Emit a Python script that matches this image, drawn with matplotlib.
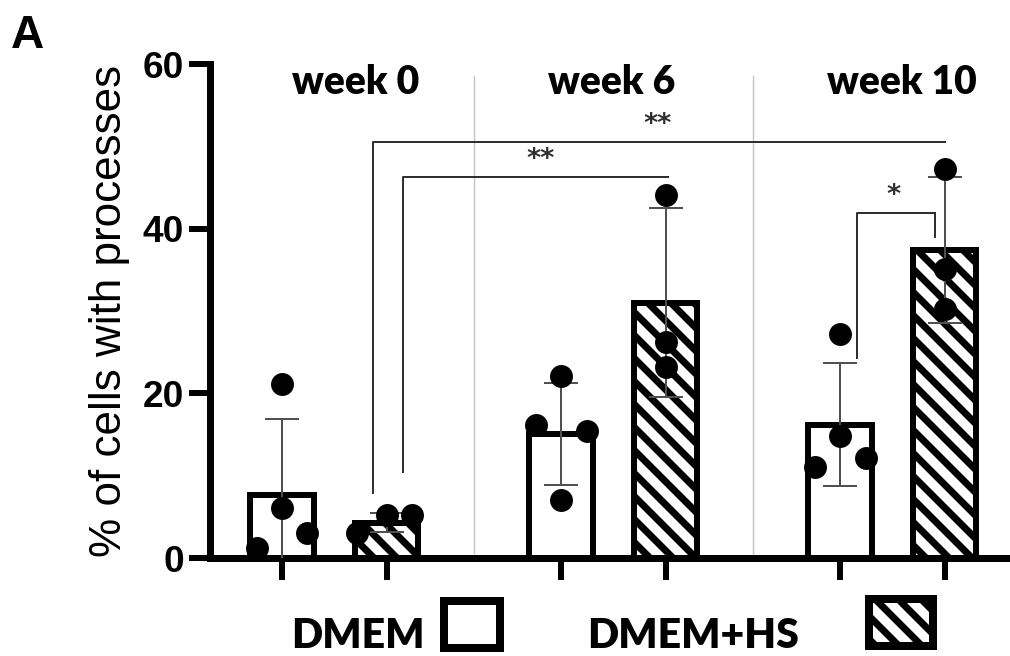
import matplotlib
matplotlib.use("Agg")
import matplotlib.pyplot as plt
from matplotlib.patches import Rectangle
import numpy as np

DPI = 138
PX = 72.0 / DPI  # one pixel in points

# group means / SD (% of cells with processes)
weeks = ["week 0", "week 6", "week 10"]
dmem_mean = [7.7, 15.1, 16.2]
dmem_sd = [9.2, 6.2, 7.5]
hs_mean = [4.3, 31.0, 37.4]
hs_sd = [1.2, 11.5, 8.9]

# individual wells
dmem_points = [[21.1, 6.1, 3.0, 1.2], [22.1, 16.2, 15.4, 7.1], [27.2, 14.8, 11.1, 12.2]]
dmem_jitter = [[0, 0, 0.24, -0.24], [0, -0.24, 0.25, 0], [0, 0, -0.24, 0.25]]
hs_points = [[5.2, 5.2, 3.0], [44.1, 26.2, 23.2], [47.3, 35.1, 30.2]]
hs_jitter = [[0, 0.24, -0.28], [0, 0, 0], [0, 0, 0]]

group_pos = np.array([0.0, 2.67, 5.34])

# significance brackets: (x left, x right, top, left leg end, right leg end, label, label x)
brackets = [
    (0.87, 6.34, 50.5, 7.9, None, "**", 3.59),
    (1.16, 3.69, 46.3, 10.4, None, "**", 2.47),
    (5.50, 6.25, 41.9, 24.3, 39.0, "*", 5.85),
]

plt.rcParams["hatch.linewidth"] = 7 * PX
plt.rcParams["hatch.color"] = "black"

fig = plt.figure(figsize=(1010 / DPI, 656 / DPI), dpi=DPI)
fig.patch.set_facecolor("white")
x_left = (210 - 282) / 104.5
x_right = (1010 - 282) / 104.5
ax = fig.add_axes([210 / 1010, (656 - 558) / 656, 1 - 210 / 1010, (558 - 64) / 656])
ax.set_xlim(x_left, x_right)
ax.set_ylim(0, 60)

bar_w = 0.61
edge_lw = 6 * PX
x_dmem = group_pos
x_hs = group_pos + 1

ax.bar(x_dmem, dmem_mean, width=bar_w, facecolor="white", edgecolor="black",
       linewidth=edge_lw, zorder=2)
ax.bar(x_hs, hs_mean, width=bar_w, facecolor="white", edgecolor="black",
       linewidth=edge_lw, hatch="\\\\", zorder=2)

err_kw = dict(fmt="none", ecolor="#505050", elinewidth=2 * PX, capsize=17 * PX,
              capthick=2 * PX, zorder=3)
ax.errorbar(x_dmem, dmem_mean, yerr=dmem_sd, **err_kw)
ax.errorbar(x_hs, hs_mean, yerr=hs_sd, **err_kw)

for i in range(len(weeks)):
    ax.scatter(x_dmem[i] + np.array(dmem_jitter[i]), dmem_points[i], s=(21 * PX) ** 2,
               color="black", zorder=4, clip_on=False)
    ax.scatter(x_hs[i] + np.array(hs_jitter[i]), hs_points[i], s=(21 * PX) ** 2,
               color="black", zorder=4, clip_on=False)

# light separators between weeks
for sep in (group_pos[:-1] + group_pos[1:] + 1) / 2:
    ax.plot([sep, sep], [0, 58.5], color="#c8c8c8", lw=1.5 * PX, zorder=1)

for i, name in enumerate(weeks):
    offs = [0.70, 0.48, 0.59][i]
    ax.text(group_pos[i] + offs, 57.8, name, ha="center", va="center",
            fontsize=39 * PX, fontweight="heavy", family="Lato")

for xl, xr, top, legl, legr, lab, lx in brackets:
    ax.plot([xl, xl, xr], [legl, top, top], color="#303030", lw=2 * PX, zorder=3)
    if legr is not None:
        ax.plot([xr, xr], [top, legr], color="#303030", lw=2 * PX, zorder=3)
    ax.text(lx, top + 0.5, lab, ha="center", va="bottom", fontsize=27 * PX,
            fontweight="bold", color="#303030")

for s in ("top", "right"):
    ax.spines[s].set_visible(False)
for s in ("left", "bottom"):
    ax.spines[s].set_linewidth(7 * PX)

ax.set_xticks(np.concatenate([x_dmem, x_hs]))
ax.set_xticklabels([])
ax.tick_params(axis="x", length=22 * PX, width=6 * PX)
ax.set_yticks([0, 20, 40, 60])
ax.set_yticklabels(["0", "20", "40", "60"], fontsize=37 * PX, fontweight="bold",
                   family="Liberation Sans")
ax.tick_params(axis="y", length=21 * PX, width=6 * PX, pad=5 * PX)

ax.set_ylabel("% of cells with processes", fontsize=44 * PX, family="Liberation Sans")
ax.yaxis.set_label_coords((130 - 210) / 800, 0.5)

fig.text(11 / 1010, 1 - 14 / 656, "A", ha="left", va="top", fontsize=46 * PX,
         fontweight="bold", family="Liberation Sans")

# legend along the bottom
leg_y = 1 - 636 / 656
fig.text(291 / 1010, leg_y, "DMEM", ha="left", va="center", fontsize=41 * PX,
         fontweight="heavy", family="Lato")
fig.text(587 / 1010, leg_y, "DMEM+HS", ha="left", va="center", fontsize=41 * PX,
         fontweight="heavy", family="Lato")
box_lw = 8 * PX
fig.patches.append(Rectangle((444 / 1010, 1 - 648 / 656), 56 / 1010, 47 / 656,
                             transform=fig.transFigure, facecolor="white",
                             edgecolor="black", linewidth=box_lw))
fig.patches.append(Rectangle((869 / 1010, 1 - 646 / 656), 64 / 1010, 47 / 656,
                             transform=fig.transFigure, facecolor="white",
                             edgecolor="black", linewidth=box_lw, hatch="\\\\"))

fig.savefig("out.png", dpi=DPI, facecolor="white")
